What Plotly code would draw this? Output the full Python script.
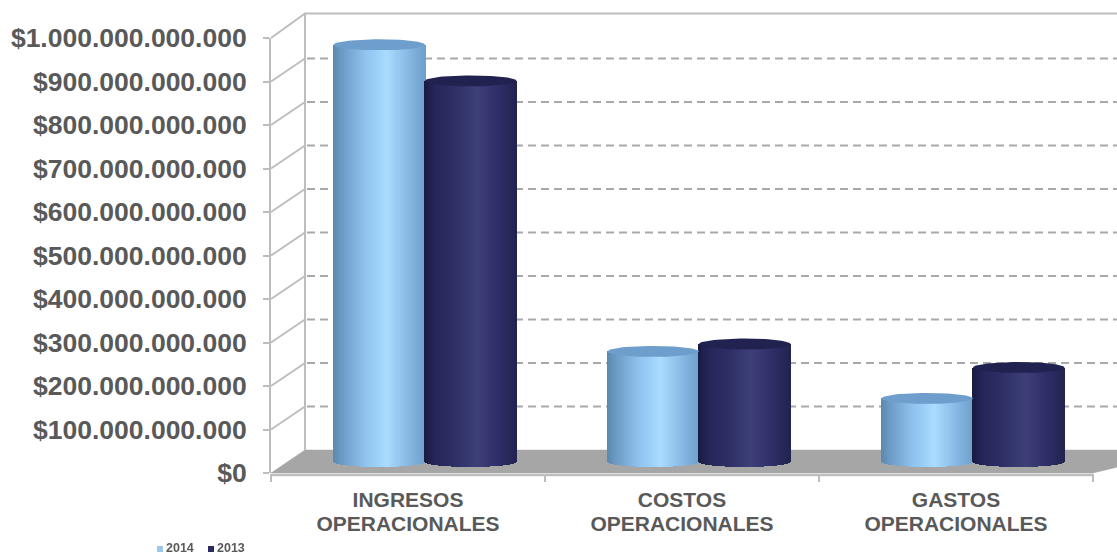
import numpy as np
import plotly.graph_objects as go

# Chart data
category_lines = [("INGRESOS", "OPERACIONALES"), ("COSTOS", "OPERACIONALES"), ("GASTOS", "OPERACIONALES")]
series_names = ["2014", "2013"]
values_2014 = [958e9, 253e9, 145e9]
values_2013 = [875e9, 270e9, 216e9]
y_ticks = [0, 100e9, 200e9, 300e9, 400e9, 500e9, 600e9, 700e9, 800e9, 900e9, 1000e9]
y_tick_labels = ["$0", "$100.000.000.000", "$200.000.000.000", "$300.000.000.000",
                 "$400.000.000.000", "$500.000.000.000", "$600.000.000.000",
                 "$700.000.000.000", "$800.000.000.000", "$900.000.000.000",
                 "$1.000.000.000.000"]

# Page and scale set-up (pixels on the page)
W, H = 1117, 555
AX_LEFT, AX_RIGHT, AX_TOP, AX_BOTTOM = 271, 1093, 38, 473
PX_X = 3 / (AX_RIGHT - AX_LEFT)        # category units per pixel
PX_Y = 1e12 / (AX_BOTTOM - AX_TOP)     # value units per pixel

# Depth offsets of the back wall and of the plane the cylinders stand on
BACK_DX, BACK_DY = 34, 23
MID_DX, MID_DY = 17, 11.5

WALL = "#BDBDBD"
GRID = "#A9A9A9"
FLOOR = "#A6A6A6"
TEXT = "#595959"
FONT = "Liberation Sans"

STOPS = [0.0, 0.12, 0.35, 0.58, 0.8, 1.0]
RAMP_2014 = ["#5B88AE", "#6F9FC9", "#8FC2EE", "#A9DCFF", "#8ABBE6", "#6F9FCB"]
RAMP_2013 = ["#1A1B40", "#25265A", "#2E3066", "#3E3F78", "#2E2F68", "#22234F"]
CAP_2014 = "#6E9ECB"
CAP_2013 = "#212250"
SWATCH = {"2014": "#9CC7EC", "2013": "#2A2B5E"}

BAR_W = 91.5 * PX_X
ELLIPSE = 5.5 * PX_Y
STRIPS = 92

# Wider glyphs inside a fixed line pitch for the two-line category labels
CAT_LABEL_PX = 21
categories = ["<br>".join(f"<span style='font-size:{CAT_LABEL_PX}px'>{ln}</span>" for ln in pair)
              for pair in category_lines]


def hex_rgb(c):
    return [int(c[i:i + 2], 16) for i in (1, 3, 5)]


def ramp_color(ramp, f):
    chans = [np.interp(f, STOPS, [hex_rgb(c)[k] for c in ramp]) for k in range(3)]
    return "rgb(%d,%d,%d)" % tuple(int(round(v)) for v in chans)


def x_range(dx):
    return [(0 - AX_LEFT - dx) * PX_X - 0.5, (W - AX_LEFT - dx) * PX_X - 0.5]


def y_range(dy):
    return [-(H - AX_BOTTOM + dy) * PX_Y, (AX_BOTTOM - dy) * PX_Y]


fig = go.Figure()

# Category axis carrier, kept invisible: it only sets up the front axes
fig.add_trace(go.Scatter(x=categories, y=values_2014, mode="markers", opacity=0,
                         hoverinfo="skip", showlegend=False, xaxis="x", yaxis="y"))


def wall(xs, ys, color=WALL, width=2, dash="solid", fill=None):
    fig.add_trace(go.Scatter(
        x=xs, y=ys, mode="lines", line=dict(color=color, width=width, dash=dash),
        fill="toself" if fill else None, fillcolor=fill, hoverinfo="skip",
        showlegend=False, xaxis="x2", yaxis="y2", cliponaxis=False))


# Wall and floor geometry, in back-plane coordinates
left_back, right_back = -0.5, 2.5 + 60 * PX_X
front_dx, front_dy = -BACK_DX * PX_X, -BACK_DY * PX_Y
top_val = y_ticks[-1] + 1.5 * PX_Y

# Floor slab
wall([left_back + front_dx, left_back, right_back, 2.5 + front_dx, left_back + front_dx],
     [front_dy, 0, 0, front_dy, front_dy], color=FLOOR, width=0.5, fill=FLOOR)
wall([left_back + front_dx, 2.5 + front_dx], [front_dy - 2 * PX_Y] * 2, color="#BEBEBE", width=2.5)

# Back wall frame
wall([left_back, left_back, right_back], [0, top_val, top_val])

# Dashed gridlines on the back wall and solid ones on the side wall
for v in y_ticks[1:-1]:
    wall([left_back + 2 * PX_X, right_back], [v, v], color=GRID, width=2, dash="8px,5px")
for v in y_ticks[1:-1]:
    wall([left_back + front_dx, left_back], [v + front_dy, v])
wall([left_back + front_dx, left_back], [y_ticks[-1] + front_dy, top_val])

# Cylinders: each one is a row of thin bars shaded across its width
for group, (v14, v13) in enumerate(zip(values_2014, values_2013)):
    for side, value, ramp, cap in ((-1, v14, RAMP_2014, CAP_2014), (1, v13, RAMP_2013, CAP_2013)):
        centre = group + side * BAR_W / 2
        t = (np.arange(STRIPS) + 0.5) / STRIPS
        xs = centre - BAR_W / 2 + t * BAR_W
        bases = -ELLIPSE * np.sqrt(np.clip(1 - (2 * t - 1) ** 2, 0, 1))
        fig.add_trace(go.Bar(
            x=xs, y=value - bases, base=bases, width=BAR_W / STRIPS * 1.02,
            marker=dict(color=[ramp_color(ramp, f) for f in t], line=dict(width=0)),
            hoverinfo="skip", showlegend=False, xaxis="x3", yaxis="y3", cliponaxis=False))
        a = np.linspace(0, 2 * np.pi, 80)
        fig.add_trace(go.Scatter(
            x=centre + BAR_W / 2 * np.cos(a), y=value + ELLIPSE * np.sin(a),
            mode="lines", line=dict(width=0, color=cap), fill="toself", fillcolor=cap,
            hoverinfo="skip", showlegend=False, xaxis="x3", yaxis="y3", cliponaxis=False))

# Series key under the chart: a small square and the year for each series
KEY_SIZE = 12.5
KEY_Y = 547.5
for name, px in zip(series_names, (157, 208)):
    fig.add_shape(type="rect", xref="paper", yref="paper", layer="above",
                  x0=px / W, x1=(px + 6) / W, y0=(H - 552) / H, y1=(H - 546) / H,
                  fillcolor=SWATCH[name], line=dict(width=0))
    fig.add_annotation(
        xref="paper", yref="paper", x=(px + 8) / W, y=(H - KEY_Y) / H,
        xanchor="left", yanchor="middle", showarrow=False, borderpad=0,
        font=dict(family=FONT, size=KEY_SIZE, color=TEXT, weight="bold"), text=name)

hidden = dict(visible=False, fixedrange=True, domain=[0, 1], automargin=False)
fig.update_layout(
    width=W, height=H, autosize=False,
    margin=dict(l=0, r=0, t=0, b=0),
    paper_bgcolor="white", plot_bgcolor="rgba(0,0,0,0)",
    barmode="overlay", bargap=0, showlegend=False,
    font=dict(family=FONT, color=TEXT),
    xaxis=dict(
        type="category", categoryorder="array", categoryarray=categories,
        domain=[AX_LEFT / W, AX_RIGHT / W], range=[-0.5, 2.5], tickson="boundaries",
        automargin=False, showgrid=False, zeroline=False, showline=False,
        ticks="outside", ticklen=8, tickwidth=1.5, tickcolor=WALL,
        tickangle=0, ticklabelstandoff=14,
        tickfont=dict(family=FONT, size=18.5, color=TEXT, weight="bold"),
    ),
    yaxis=dict(
        domain=[(H - AX_BOTTOM) / H, (H - AX_TOP) / H], range=[0, 1e12],
        tickmode="array", tickvals=y_ticks, ticktext=y_tick_labels,
        automargin=False, showgrid=False, zeroline=False, showline=True,
        linecolor=WALL, linewidth=2,
        ticks="outside", ticklen=6, tickwidth=1.5, tickcolor=WALL, ticklabelstandoff=11,
        tickfont=dict(family=FONT, size=26.5, color=TEXT, weight="bold"),
    ),
    xaxis2=dict(range=x_range(BACK_DX), anchor="y2", **hidden),
    yaxis2=dict(range=y_range(BACK_DY), anchor="x2", **hidden),
    xaxis3=dict(range=x_range(MID_DX), anchor="y3", **hidden),
    yaxis3=dict(range=y_range(MID_DY), anchor="x3", **hidden),
)

fig.write_html("out.html", config=dict(displayModeBar=False))
